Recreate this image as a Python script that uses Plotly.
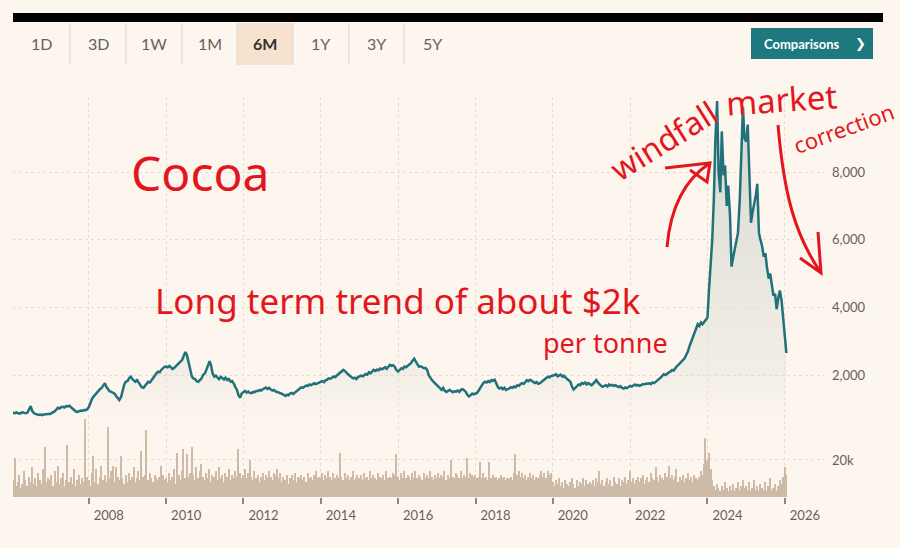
import pandas as pd
import plotly.graph_objects as go

# London cocoa, semi-monthly readings (GBP/tonne), Jan 2006 - Jan 2026
price_06_09 = [
    890, 880, 870, 895, 880, 860, 875, 900, 880, 870, 890, 1000, 1080, 940, 870, 850, 830, 820, 830, 815, 830, 840, 835, 850,
    850, 870, 900, 930, 980, 1030, 1010, 1050, 1060, 1040, 1080, 1070, 1090, 1050, 1000, 960, 920, 910, 930, 950, 940, 965, 960, 980,
    1050, 1180, 1300, 1360, 1420, 1450, 1520, 1580, 1620, 1700, 1760, 1650, 1580, 1520, 1500, 1470, 1450, 1380, 1300, 1260, 1350, 1560, 1720, 1800,
    1820, 1900, 1950, 1880, 1830, 1800, 1850, 1780, 1700, 1640, 1620, 1680, 1760, 1800, 1780, 1850, 1920, 1980, 2050, 2100, 2080, 2150, 2200, 2240,
]
price_10_13 = [
    2250, 2230, 2270, 2210, 2180, 2200, 2260, 2300, 2350, 2400, 2450, 2560, 2680, 2600, 2350, 2150, 1950, 1900, 1880, 1820, 1800, 1850, 1900, 2000,
    2050, 2150, 2300, 2410, 2280, 2050, 1950, 1980, 1920, 1880, 1950, 1900, 1870, 1920, 1850, 1880, 1800, 1820, 1750, 1650, 1560, 1400, 1330, 1450,
    1500, 1530, 1480, 1510, 1470, 1460, 1500, 1490, 1530, 1520, 1560, 1540, 1580, 1600, 1630, 1590, 1620, 1570, 1540, 1560, 1510, 1500, 1490, 1460,
    1440, 1400, 1380, 1420, 1400, 1450, 1470, 1440, 1480, 1530, 1550, 1600, 1640, 1620, 1660, 1690, 1680, 1720, 1700, 1740, 1760, 1730, 1750, 1780,
]
price_14_17 = [
    1800, 1820, 1790, 1850, 1860, 1900, 1890, 1920, 1950, 1940, 1980, 2020, 2060, 2100, 2150, 2120, 2080, 2020, 1980, 1940, 1900, 1920, 1880, 1930,
    1950, 1980, 1960, 2000, 2030, 2010, 2080, 2050, 2100, 2150, 2120, 2160, 2140, 2190, 2170, 2200, 2230, 2180, 2250, 2300, 2270, 2290, 2240, 2150,
    2100, 2150, 2200, 2180, 2250, 2230, 2280, 2300, 2350, 2420, 2480, 2400, 2300, 2250, 2260, 2230, 2200, 2210, 2150, 2000, 1900, 1850, 1800, 1750,
    1700, 1650, 1600, 1560, 1620, 1540, 1500, 1520, 1560, 1530, 1490, 1520, 1510, 1540, 1500, 1560, 1580, 1550, 1500, 1420, 1370, 1400, 1450, 1430,
]
price_18_21 = [
    1440, 1470, 1550, 1620, 1700, 1760, 1800, 1780, 1820, 1790, 1850, 1830, 1860, 1750, 1640, 1600, 1630, 1580, 1620, 1560, 1570, 1600, 1640, 1620,
    1660, 1640, 1700, 1680, 1730, 1760, 1740, 1800, 1850, 1820, 1860, 1830, 1780, 1760, 1790, 1740, 1760, 1800, 1850, 1880, 1920, 1950, 1930, 1970,
    1980, 2000, 2020, 1960, 1990, 2010, 1950, 1980, 1920, 1880, 1850, 1800, 1650, 1570, 1620, 1680, 1720, 1700, 1760, 1740, 1780, 1720, 1760, 1730,
    1700, 1740, 1800, 1850, 1780, 1720, 1680, 1650, 1670, 1700, 1660, 1720, 1690, 1710, 1680, 1700, 1660, 1640, 1670, 1620, 1600, 1630, 1610, 1650,
]
price_22_26 = [
    1680, 1660, 1700, 1720, 1690, 1710, 1680, 1700, 1730, 1720, 1750, 1740, 1760, 1730, 1780, 1760, 1800, 1850, 1880, 1920, 1980, 2020, 2000, 2050,
    2080, 2100, 2150, 2130, 2200, 2250, 2300, 2350, 2420, 2450, 2500, 2600, 2700, 2850, 3000, 3150, 3300, 3400, 3500, 3450, 3550, 3500, 3580, 3650,
    3700, 4500, 5200, 6000, 7200, 8900, 10100, 8000, 7400, 9200, 7900, 8200, 7000, 7600, 6700, 5200, 5500, 5700, 6000, 6200, 7200, 8450, 9930, 9000,
    8900, 9400, 8000, 6500, 6800, 7000, 7300, 7650, 6200, 6000, 5800, 5500, 5600, 5200, 4850, 5000, 4600, 4350, 4400, 3950, 4300, 4500, 4200, 3750,
    3300, 2650,
]

# traded volume, thousands of lots, same dates
volume_06_09 = [
    7, 9, 21, 6, 8, 12, 5, 7, 14, 9, 6, 11, 8, 16, 7, 10, 6, 13, 9, 7, 15, 27, 8, 10,
    9, 12, 6, 14, 8, 17, 7, 10, 13, 6, 9, 28, 8, 11, 7, 15, 6, 9, 12, 7, 10, 8, 42, 11,
    9, 6, 13, 22, 8, 15, 7, 11, 17, 9, 12, 8, 38, 10, 14, 17, 8, 16, 11, 9, 22, 10, 7, 12,
    8, 13, 9, 11, 16, 8, 10, 14, 9, 25, 11, 12, 36, 9, 13, 10, 8, 12, 10, 9, 11, 17, 12, 9,
]
volume_10_13 = [
    10, 8, 13, 9, 11, 15, 7, 24, 12, 9, 14, 26, 10, 23, 11, 13, 27, 12, 9, 16, 10, 14, 18, 11,
    9, 13, 10, 15, 8, 12, 11, 14, 9, 16, 10, 12, 8, 13, 11, 15, 9, 12, 10, 14, 11, 26, 13, 10,
    12, 15, 10, 13, 20, 11, 9, 14, 10, 12, 8, 11, 13, 9, 12, 10, 14, 11, 9, 13, 12, 15, 10, 13,
    8, 11, 9, 12, 7, 10, 12, 9, 13, 8, 11, 10, 12, 9, 11, 8, 13, 10, 11, 9, 12, 14, 10, 11,
]
volume_14_17 = [
    10, 13, 9, 12, 10, 14, 11, 9, 13, 10, 12, 10, 24, 11, 9, 13, 10, 12, 9, 11, 14, 9, 10, 12,
    10, 12, 9, 13, 10, 11, 9, 14, 10, 12, 10, 9, 13, 11, 10, 12, 9, 14, 10, 11, 10, 13, 12, 23,
    11, 9, 13, 10, 14, 10, 12, 11, 9, 13, 10, 14, 10, 12, 11, 9, 13, 10, 12, 10, 14, 11, 9, 12,
    10, 13, 10, 12, 11, 14, 9, 12, 10, 20, 11, 10, 13, 12, 10, 14, 10, 12, 11, 21, 10, 13, 12, 11,
]
volume_18_21 = [
    12, 10, 11, 19, 10, 13, 10, 11, 9, 19, 10, 12, 10, 11, 9, 10, 12, 10, 11, 9, 10, 10, 11, 9,
    13, 23, 12, 14, 11, 13, 10, 12, 9, 11, 13, 10, 12, 9, 11, 10, 12, 14, 11, 13, 10, 14, 12, 13,
    8, 6, 9, 7, 10, 6, 8, 5, 9, 7, 6, 8, 10, 7, 5, 9, 6, 8, 7, 10, 6, 9, 7, 8,
    7, 9, 6, 10, 8, 14, 7, 9, 6, 8, 10, 7, 9, 6, 11, 8, 7, 10, 6, 9, 8, 11, 7, 9,
]
volume_22_26 = [
    14, 8, 10, 7, 9, 11, 8, 10, 12, 7, 9, 11, 8, 13, 10, 9, 16, 11, 8, 12, 10, 9, 13, 11,
    17, 10, 12, 9, 11, 15, 8, 11, 9, 12, 8, 10, 13, 9, 11, 8, 12, 10, 9, 11, 14, 12, 18, 32,
    20, 24, 15, 9, 6, 4, 7, 5, 3, 6, 4, 8, 5, 3, 6, 4, 7, 3, 5, 8, 4, 6, 9, 5,
    6, 4, 8, 3, 5, 9, 4, 6, 3, 7, 5, 4, 8, 3, 6, 10, 4, 5, 7, 3, 6, 9, 7, 11,
    16, 12,
]

range_buttons = ["1D", "3D", "1W", "1M", "6M", "1Y", "3Y", "5Y"]

price = price_06_09 + price_10_13 + price_14_17 + price_18_21 + price_22_26
volume = [v * 1000 for v in volume_06_09 + volume_10_13 + volume_14_17 + volume_18_21 + volume_22_26]
dates = pd.date_range("2006-01-01", periods=len(price), freq="SMS")

BG = "#fdf6ee"
GRID = "#eadbcf"
TXT = "#66605c"
RED = "#e3161d"
FONT = "Lato, 'Noto Sans', sans-serif"

# plot area is 13..825 px wide, 97..497 px tall; helpers turn page pixels into paper coords
def px(x):
    return (x - 13) / 812


def py(y):
    return (497 - y) / 400


def path(points):
    return "M " + " L ".join(f"{px(a)},{py(b)}" for a, b in points)


fig = go.Figure()

fig.add_trace(go.Bar(
    x=dates, y=volume, yaxis="y",
    marker=dict(color="#cdbba8", line_width=0),
    name="Volume",
))
fig.add_trace(go.Scatter(
    x=dates, y=price, yaxis="y2",
    mode="lines", line=dict(color="#21717a", width=2.5),
    fill="tozeroy",
    fillgradient=dict(
        type="vertical", start=0, stop=10000,
        colorscale=[[0, "rgba(253,246,238,0)"], [0.2, "rgba(222,224,214,0.35)"],
                    [1, "rgba(205,212,205,0.9)"]],
    ),
    name="Cocoa",
))

paper = dict(xref="paper", yref="paper")
shapes = [
    dict(type="rect", x0=px(13), x1=px(883), y0=py(22), y1=py(13),
         fillcolor="#000000", line_width=0, **paper),
    dict(type="rect", x0=px(237), x1=px(293), y0=py(65), y1=py(23),
         fillcolor="#f6e2cf", line_width=0, layer="below", **paper),
    dict(type="rect", x0=px(751), x1=px(873), y0=py(59), y1=py(28),
         fillcolor="#1d7880", line_width=0, layer="below", **paper),
]
for sx in [70, 126, 182, 237, 293, 349, 404]:
    shapes.append(dict(type="line", x0=px(sx), x1=px(sx), y0=py(65), y1=py(23),
                       line=dict(color="#e2d4c6", width=1), **paper))

# hand-drawn arrows
shapes += [
    dict(type="path", path=f"M {px(667)},{py(247)} Q {px(672)},{py(188)} {px(710)},{py(163)}",
         line=dict(color=RED, width=3), **paper),
    dict(type="path", path=path([(665, 168), (710, 163), (707, 182), (690, 170)]),
         line=dict(color=RED, width=3), **paper),
    dict(type="path", path=f"M {px(778)},{py(125)} C {px(784)},{py(195)} {px(795)},{py(235)} {px(821)},{py(273)}",
         line=dict(color=RED, width=3), **paper),
    dict(type="path", path=path([(800, 258), (821, 273), (818, 232)]),
         line=dict(color=RED, width=3), **paper),
]

annotations = []
for label, cx in zip(range_buttons, [41, 98, 154, 210, 265, 320, 376, 432]):
    annotations.append(dict(
        text=f"<b>{label}</b>" if label == "6M" else label,
        x=px(cx), y=py(44), xanchor="center", yanchor="middle", showarrow=False,
        font=dict(family=FONT, size=16, color="#33302e" if label == "6M" else TXT),
        **paper,
    ))
annotations += [
    dict(text="<b>Comparisons</b>", x=px(801), y=py(44), xanchor="center", yanchor="middle",
         showarrow=False, font=dict(family=FONT, size=13, color="white"), **paper),
    dict(text="<b>❯</b>", x=px(860), y=py(44), xanchor="center", yanchor="middle",
         showarrow=False, font=dict(family="DejaVu Sans", size=13, color="white"), **paper),
]

notes = [
    ("Cocoa", 200, 172, 48, 0),
    ("Long term trend of about $2k", 398, 300, 35, 0),
    ("per tonne", 605, 342, 27, 0),
    ("windfall", 663, 140, 32, -32),
    ("market", 781, 100, 33, -4),
    ("correction", 843, 128, 22, -20),
]
for text, cx, cy, size, angle in notes:
    annotations.append(dict(
        text=text, x=px(cx), y=py(cy), xanchor="center", yanchor="middle",
        showarrow=False, textangle=angle,
        font=dict(family="'Noto Sans', sans-serif", size=size, color=RED),
        **paper,
    ))

fig.update_layout(
    width=900, height=548,
    paper_bgcolor=BG, plot_bgcolor=BG,
    margin=dict(l=13, r=75, t=97, b=51),
    showlegend=False,
    bargap=0,
    font=dict(family=FONT, size=13, color=TXT),
    xaxis=dict(
        type="date", range=["2006-01-15", "2027-01-15"],
        tick0="2008-01-01", dtick="M24", tickformat="%Y",
        ticks="outside", ticklen=6, tickwidth=1.5, tickcolor="#8d8681",
        ticklabelshift=20,
        showgrid=True, gridcolor=GRID, griddash="dot", gridwidth=1,
        showline=False, zeroline=False,
        tickfont=dict(size=13, color=TXT),
    ),
    yaxis=dict(
        domain=[0, 1], range=[0, 216000], side="right",
        tickvals=[20000], ticktext=["20k"], ticklabelstandoff=6,
        showgrid=True, gridcolor=GRID, griddash="dot",
        zeroline=False, showline=False,
        tickfont=dict(size=13, color=TXT),
    ),
    yaxis2=dict(
        overlaying="y", range=[-1606, 10217], side="right",
        tickvals=[2000, 4000, 6000, 8000], tickformat=",", ticklabelstandoff=6,
        showgrid=True, gridcolor=GRID, griddash="dot",
        zeroline=False, showline=False,
        tickfont=dict(size=13, color=TXT),
    ),
    shapes=shapes,
    annotations=annotations,
)

fig.write_html(
    "out.html",
    config={"displayModeBar": False},
    post_script="document.body.style.margin='0';document.body.style.background='#fdf6ee';",
)
